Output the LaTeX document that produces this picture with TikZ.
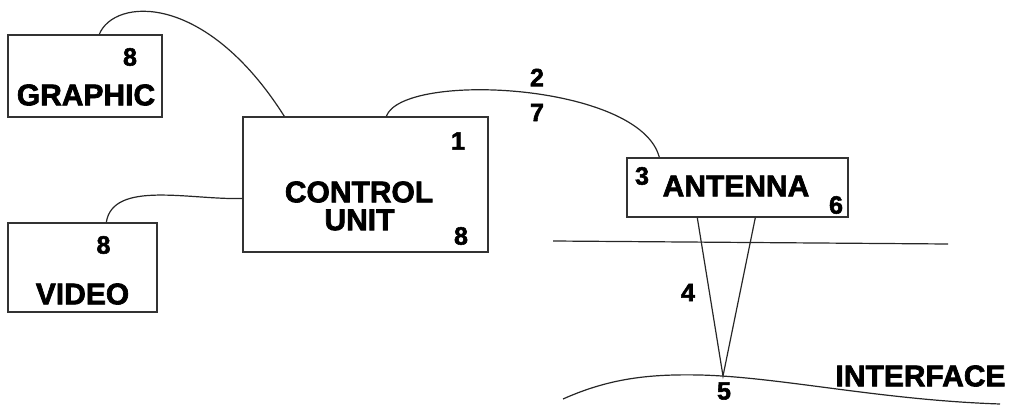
\documentclass[tikz,border=0pt]{standalone}
\usepackage{fontspec}
\setmainfont{Liberation Sans}[BoldFeatures={FakeBold=2.2}]

\tikzset{
  box/.style={draw=black!80, line width=1.4pt, inner sep=0pt},
  word/.style={font=\bfseries\fontsize{30}{30}\selectfont, inner sep=0pt},
  num/.style={font=\bfseries\fontsize{25}{25}\selectfont, inner sep=0pt},
  wire/.style={draw=black!85, line width=1.2pt},
}

\begin{document}
\begin{tikzpicture}[x=1pt, y=1pt]
			\useasboundingbox (0,0) rectangle (1012,405);

			% Các khối
			\node[box, minimum width=154pt, minimum height=82pt] (graphic) at (85,329) {};
			\node[box, minimum width=245pt, minimum height=135pt] (cu) at (365.5,220.5) {};
			\node[box, minimum width=149pt, minimum height=89pt] (video) at (82.5,137.5) {};
			\node[box, minimum width=221pt, minimum height=59pt] (antenna) at (737.5,217.5) {};

			% Chữ trong các khối
			\node[num] (g8) at (130,348) {8};
			\node[word] (gtext) at (86,310) {GRAPHIC};
			\node[num] (cu1) at (458,264) {1};
			\node[word] (cutext) at (359,213) {CONTROL};
			\node[word] (cutext2) at (359.5,185) {UNIT};
			\node[num] (cu8) at (461,169) {8};
			\node[num] (v8) at (103.5,160) {8};
			\node[word] (vtext) at (82.5,111) {VIDEO};
			\node[num] (a3) at (642,229) {3};
			\node[word] (atext) at (736,219) {ANTENNA};
			\node[num] (a6) at (836,200) {6};

			% Các dây nối
			\draw[wire] ([xshift=92pt]graphic.north west) .. controls (114,407) and (205,414) .. ([xshift=42pt]cu.north west);
			\draw[wire] ([xshift=144pt]cu.north west) .. controls (403,334) and (640,322) .. ([xshift=33pt]antenna.north west);
			\draw[wire] ([xshift=99pt]video.north west) .. controls (113,225) and (190,205) .. ([yshift=-14pt]cu.west);
			\node[num] (l2) at (537,327.5) {2};
			\node[num] (l7) at (537,292.5) {7};

			% Mặt đất và chùm tia
			\draw[wire] (553,164) -- (948,161);
			\coordinate (spot) at (723,29);
			\draw[wire] ([xshift=71pt]antenna.south west) -- (spot) -- ([xshift=129pt]antenna.south west);
			\node[num] (l4) at (688,112.5) {4};
			\node[num] (l5) at (724,14) {5};

			% Mặt phân cách
			\draw[wire] (563,6) .. controls (610,27) and (650,31) .. (700,30) .. controls (780,28) and (880,5) .. (1000,1);
			\node[word] (itext) at (920.5,29) {INTERFACE};
		\end{tikzpicture}
\end{document}
